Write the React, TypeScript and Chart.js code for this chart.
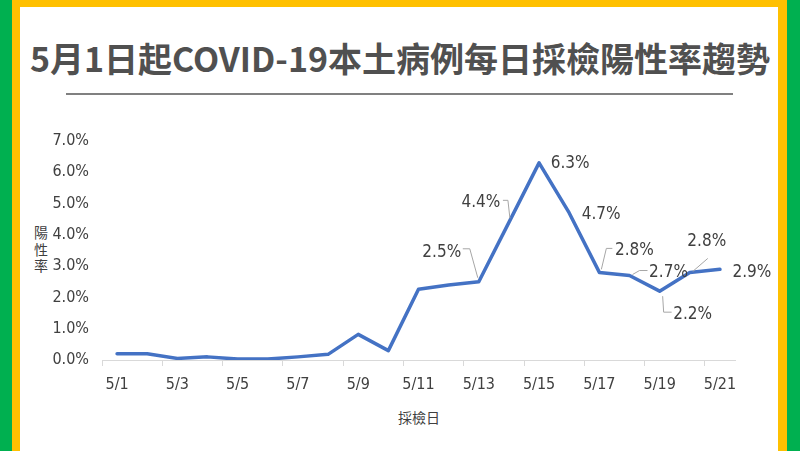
import React, { useEffect, useRef } from "react";
import { Chart, registerables } from "chart.js";

Chart.register(...registerables);

const categories = ["5/1","5/2","5/3","5/4","5/5","5/6","5/7","5/8","5/9","5/10","5/11","5/12","5/13","5/14","5/15","5/16","5/17","5/18","5/19","5/20","5/21"];
const positiveRate = [0.2,0.2,0.05,0.1,0.03,0.03,0.1,0.18,0.82,0.3,2.26,2.4,2.5,4.4,6.3,4.7,2.8,2.7,2.2,2.8,2.9];
const yTicks = [0,1,2,3,4,5,6,7];

const titleText = "5月1日起COVID-19本土病例每日採檢陽性率趨勢";
const yAxisTitle = ["陽", "性", "率"];
const xAxisTitle = "採檢日";

// label placement (pixel offsets relative to point) and leader lines
const labelLayout: { i: number; dx: number; dy: number; leader?: number[][] }[] = [
  { i: 12, dx: -37, dy: -29, leader: [[-16, -33], [-9, -33], [-1, -4]] },
  { i: 13, dx: -28, dy: -20, leader: [[-6, -22], [-1, -22], [1, -4]] },
  { i: 14, dx: 31, dy: 1 },
  { i: 15, dx: 32, dy: 2 },
  { i: 16, dx: 35, dy: -22, leader: [[13, -24], [7, -24], [2, -3]] },
  { i: 17, dx: 39, dy: -3, leader: [[18, -5], [10, -5], [3, -1]] },
  { i: 18, dx: 33, dy: 23, leader: [[3, 5], [4, 21], [12, 21]] },
  { i: 19, dx: 17, dy: -31, leader: [[18, -14], [3, -1]] },
  { i: 20, dx: 32, dy: 3 },
];

const NARROW = "'Liberation Sans Narrow', 'DejaVu Sans Condensed', 'Noto Sans', sans-serif";
const CJK = "'Noto Sans CJK TC', 'Noto Sans CJK SC', sans-serif";

const dataLabelPlugin = {
  id: "dataLabelPlugin",
  afterDatasetsDraw(chart: any) {
    const ctx = chart.ctx;
    const meta = chart.getDatasetMeta(0);
    const data = chart.data.datasets[0].data as number[];
    ctx.save();
    for (const spec of labelLayout) {
      const el = meta.data[spec.i];
      if (!el) continue;
      const px = el.x, py = el.y;
      if (spec.leader) {
        ctx.strokeStyle = "#a6a6a6";
        ctx.lineWidth = 1;
        ctx.beginPath();
        spec.leader.forEach((p, k) => {
          if (k === 0) ctx.moveTo(px + p[0], py + p[1]);
          else ctx.lineTo(px + p[0], py + p[1]);
        });
        ctx.stroke();
      }
      ctx.fillStyle = "#404040";
      ctx.font = `17px ${NARROW}`;
      ctx.textAlign = "center";
      ctx.textBaseline = "middle";
      ctx.fillText(data[spec.i].toFixed(1) + "%", px + spec.dx, py + spec.dy);
    }
    ctx.restore();
  },
};

export default function App() {
  const ref = useRef<HTMLCanvasElement | null>(null);
  useEffect(() => {
    if (!ref.current) return;
    const chart = new Chart(ref.current, {
      type: "line",
      data: {
        labels: categories,
        datasets: [
          {
            data: positiveRate,
            borderColor: "#4472C4",
            borderWidth: 3.5,
            pointRadius: 0,
            tension: 0,
            borderJoinStyle: "round",
            borderCapStyle: "round",
          },
        ],
      },
      options: {
        responsive: false,
        animation: false,
        devicePixelRatio: 1,
        layout: { padding: { left: 0, right: 65, top: 141, bottom: 0 } },
        plugins: { legend: { display: false }, tooltip: { enabled: false }, title: { display: false } },
        scales: {
          x: {
            type: "category",
            offset: true,
            afterFit: (s: any) => { s.height = 91; },
            grid: {
              display: true,
              offset: true,
              drawOnChartArea: false,
              drawTicks: true,
              tickLength: 6,
              color: (c: any) => (c.index % 2 === 0 && c.index < categories.length ? "#d9d9d9" : "rgba(0,0,0,0)"),
            },
            border: { display: true, color: "#d9d9d9", width: 1 },
            ticks: {
              autoSkip: false,
              maxRotation: 0,
              padding: 9,
              color: "#404040",
              font: { family: NARROW, size: 16 },
              callback: (_v: any, idx: number) => (idx % 2 === 0 ? categories[idx] : ""),
            },
          },
          y: {
            min: yTicks[0],
            max: yTicks[yTicks.length - 1],
            afterFit: (s: any) => { s.width = 102; },
            afterBuildTicks: (s: any) => { s.ticks = yTicks.map((v) => ({ value: v })); },
            grid: { display: false, drawTicks: false },
            border: { display: false },
            ticks: {
              padding: 13,
              color: "#404040",
              font: { family: NARROW, size: 16 },
              callback: (v: any) => Number(v).toFixed(1) + "%",
            },
          },
        },
      },
      plugins: [dataLabelPlugin],
    } as any);
    return () => chart.destroy();
  }, []);

  return (
    <div style={{ position: "absolute", left: 0, top: 0, width: 800, height: 451, background: "#00B050", overflow: "hidden" }}>
      <div style={{ position: "absolute", left: 12, top: 0, width: 775, height: 451, background: "#FFC000" }} />
      <div style={{ position: "absolute", left: 20, top: 7, width: 758, height: 444, background: "#ffffff" }} />
      <div
        style={{
          position: "absolute",
          left: 0,
          width: 800,
          top: 36,
          textAlign: "center",
          fontFamily: CJK,
          fontWeight: 700,
          fontSize: 34,
          lineHeight: "44px",
          color: "#505050",
          whiteSpace: "nowrap",
        }}
      >
        {titleText}
      </div>
      <div style={{ position: "absolute", left: 66, top: 93, width: 667, height: 2, background: "#808080" }} />
      <div
        style={{
          position: "absolute",
          left: 33,
          top: 224,
          width: 16,
          fontFamily: CJK,
          fontSize: 14,
          lineHeight: "16.5px",
          color: "#404040",
          textAlign: "center",
        }}
      >
        {yAxisTitle.map((c, k) => (
          <div key={k}>{c}</div>
        ))}
      </div>
      <div
        style={{
          position: "absolute",
          left: 398,
          top: 407,
          fontFamily: CJK,
          fontSize: 14,
          lineHeight: "20px",
          color: "#404040",
          whiteSpace: "nowrap",
        }}
      >
        {xAxisTitle}
      </div>
      <canvas ref={ref} width={800} height={451} style={{ position: "absolute", left: 0, top: 0, width: 800, height: 451 }} />
    </div>
  );
}
